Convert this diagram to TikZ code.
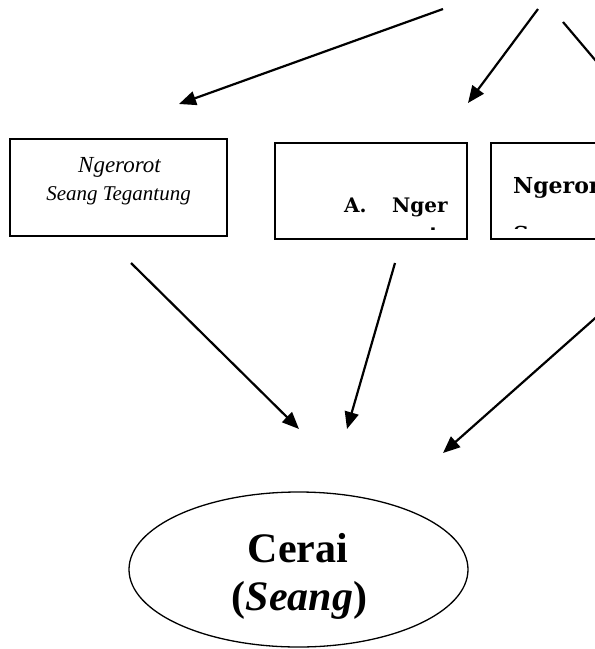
\documentclass[tikz,border=0pt]{standalone}
\usepackage{fontspec}
\setmainfont{Liberation Serif}
\newfontfamily\dvs{DejaVu Serif}
\usetikzlibrary{arrows.meta,shapes.geometric}
\begin{document}
\begin{tikzpicture}[x=1pt,y=-1pt,
  boxst/.style={draw,line width=1.3pt,inner sep=0pt,outer sep=0pt,anchor=north west},
  arr/.style={line width=2.2pt,-{Triangle[length=17pt,width=14pt]}},
  itfont/.style={font=\itshape\fontsize{#1}{#1}\selectfont},
  bxfont/.style={font=\dvs\bfseries\fontsize{#1}{#1}\selectfont,inner sep=0pt,anchor=base west},
  bigfont/.style={font=\bfseries\fontsize{42}{48}\selectfont,inner sep=0pt,anchor=base}]
\useasboundingbox (0,0) rectangle (595,649);
\clip (0,0) rectangle (595,649);

% boxes
\node[boxst,minimum width=217pt,minimum height=97pt] (b1) at (10,139) {};
\node[boxst,minimum width=192pt,minimum height=96pt] (b2) at (275,143) {};
\node[boxst,minimum width=200pt,minimum height=96pt] (b3) at (491,143) {};

% box 1 text
\node[itfont=23,anchor=base,inner sep=0pt] (t1a) at (119.5,172) {Ngerorot};
\node[itfont=21,anchor=base,inner sep=0pt] (t1b) at (118.5,200) {Seang Tegantung};

% box 2 text
\node[bxfont=20] (t2a) at (344,212) {A.};
\node[bxfont=20] (t2b) at (392,212) {Nger};
\begin{scope}
  \clip (276,144) rectangle (466,229.5);
  \node[bxfont=20] (t2c) at (392,241.5) {orot};
\end{scope}

% box 3 text
\node[bxfont=22] (t3a) at (513,193) {Ngerorot};
\begin{scope}
  \clip (492,144) rectangle (600,228.5);
  \node[bxfont=22] (t3b) at (513,242) {Seang};
\end{scope}

% ellipse
\node[draw,ellipse,line width=1.3pt,minimum width=339pt,minimum height=155pt,inner sep=0pt] (ell) at (298.5,569.5) {};
\node[bigfont] (cer) at (298,562) {Cerai};
\node[bigfont] (sg) at (299.5,610) {(\textit{Seang})};

% arrow end points
\coordinate (s1) at (443,9);   \coordinate (e1) at (179,104);
\coordinate (s2) at (538,9);   \coordinate (e2) at (468,103);
\coordinate (s3) at (563,22);  \coordinate (e3) at (629,100);
\coordinate (s4) at (131,263); \coordinate (e4) at (299,429);
\coordinate (s5) at (395,263); \coordinate (e5) at (347,429);
\coordinate (s6) at (610,305); \coordinate (e6) at (443,453);

\draw[arr] (s1) -- (e1);
\draw[arr] (s2) -- (e2);
\draw[arr] (s3) -- (e3);
\draw[arr] (s4) -- (e4);
\draw[arr] (s5) -- (e5);
\draw[arr] (s6) -- (e6);
\end{tikzpicture}
\end{document}
